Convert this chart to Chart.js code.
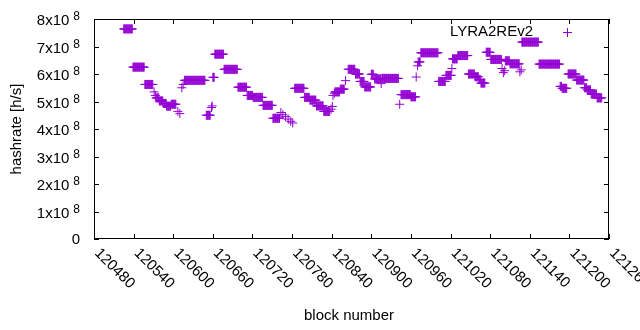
<!DOCTYPE html>
<html>
<head>
<meta charset="utf-8">
<script src="https://cdn.jsdelivr.net/npm/chart.js@4/dist/chart.umd.min.js"></script>
<style>
  html, body { margin: 0; padding: 0; background: #fff; }
  canvas { display: block; }
</style>
</head>
<body>
<canvas id="hashChart" width="640" height="330"></canvas>
<script>
  // runs of blocks that share the same estimated hashrate (x10^8 h/s)
  const runFirstBlock = [120525, 120539, 120557, 120571, 120573, 120574, 120579, 120585, 120590, 120597,
    120607, 120610, 120613, 120615, 120617, 120650, 120658, 120659, 120660, 120663,
    120677, 120698, 120712, 120721, 120736, 120751, 120763, 120766, 120770, 120774,
    120778, 120781, 120784, 120799, 120807, 120817, 120828, 120839, 120841, 120842,
    120844, 120845, 120853, 120861, 120865, 120876, 120883, 120890, 120900, 120905,
    120915, 120916, 120943, 120945, 120960, 120968, 120970, 120971, 120975, 121002,
    121013, 121022, 121023, 121031, 121047, 121057, 121063, 121066, 121074, 121081,
    121098, 121100, 121102, 121103, 121110, 121125, 121127, 121128, 121154, 121186,
    121189, 121198, 121211, 121223, 121227, 121233, 121242];
  const runLastBlock = [120538, 120556, 120569, 120571, 120573, 120578, 120584, 120589, 120596, 120604,
    120607, 120610, 120613, 120615, 120648, 120656, 120658, 120659, 120662, 120676,
    120697, 120711, 120720, 120735, 120750, 120761, 120763, 120766, 120770, 120774,
    120778, 120781, 120798, 120806, 120816, 120827, 120837, 120839, 120841, 120842,
    120844, 120852, 120859, 120861, 120875, 120882, 120889, 120899, 120903, 120914,
    120915, 120941, 120943, 120959, 120967, 120968, 120970, 120974, 121001, 121012,
    121021, 121022, 121030, 121046, 121056, 121062, 121065, 121072, 121080, 121097,
    121098, 121100, 121102, 121109, 121124, 121125, 121127, 121153, 121185, 121188,
    121196, 121210, 121222, 121226, 121232, 121241, 121249];
  const runHashrate = [7.64, 6.25, 5.62, 5.35, 5.22, 5.13, 5.02, 4.93, 4.83, 4.9,
    4.64, 4.56, 5.5, 5.62, 5.77, 4.5, 4.78, 4.84, 5.88, 6.72,
    6.17, 5.52, 5.22, 5.15, 4.86, 4.39, 4.6, 4.52, 4.45, 4.36,
    4.28, 4.22, 5.48, 5.15, 5.05, 4.84, 4.64, 4.72, 4.82, 5.22,
    5.3, 5.35, 5.45, 5.76, 6.17, 6.0, 5.73, 5.53, 5.99, 5.82,
    5.65, 5.84, 4.9, 5.25, 5.17, 5.89, 6.3, 6.44, 6.77, 5.73,
    5.95, 6.2, 6.55, 6.67, 6.0, 5.9, 5.8, 5.67, 6.79, 6.53,
    6.2, 6.05, 6.12, 6.48, 6.37, 6.08, 6.15, 7.16, 6.36, 5.55,
    5.48, 6.0, 5.78, 5.5, 5.42, 5.27, 5.13];

  const xTicks = [120480, 120540, 120600, 120660, 120720, 120780, 120840, 120900, 120960,
    121020, 121080, 121140, 121200, 121260];
  const yTicks = [0, 1, 2, 3, 4, 5, 6, 7, 8];
  const seriesName = 'LYRA2REv2';

  const points = [];
  runFirstBlock.forEach((first, i) => {
    for (let b = first; b <= runLastBlock[i]; b++) {
      points.push({ x: b, y: runHashrate[i] * 1e8 });
    }
  });

  const violet = '#9400d3';
  const font = '15px "Liberation Sans", Arial, sans-serif';
  const supFont = '12px "Liberation Sans", Arial, sans-serif';

  const gnuplotFrame = {
    id: 'gnuplotFrame',
    afterDraw(chart) {
      const { ctx, chartArea: a, scales: { x, y } } = chart;
      ctx.save();
      ctx.strokeStyle = '#000';
      ctx.lineWidth = 1;
      ctx.strokeRect(a.left + 0.5, a.top + 0.5, a.right - a.left - 1, a.bottom - a.top - 1);

      ctx.beginPath();
      xTicks.forEach(v => {
        const px = Math.round(x.getPixelForValue(v)) + 0.5;
        ctx.moveTo(px, a.bottom); ctx.lineTo(px, a.bottom - 5);
        ctx.moveTo(px, a.top); ctx.lineTo(px, a.top + 5);
      });
      yTicks.forEach(v => {
        const py = Math.round(y.getPixelForValue(v * 1e8)) + 0.5;
        ctx.moveTo(a.left, py); ctx.lineTo(a.left + 5, py);
        ctx.moveTo(a.right, py); ctx.lineTo(a.right - 5, py);
      });
      ctx.stroke();

      ctx.fillStyle = '#000';
      // y tick labels
      yTicks.forEach(v => {
        const py = y.getPixelForValue(v * 1e8);
        const rx = a.left - 14;
        ctx.textAlign = 'right';
        if (v === 0) {
          ctx.font = font;
          ctx.textBaseline = 'middle';
          ctx.fillText('0', rx, py + 1);
          return;
        }
        ctx.font = supFont;
        ctx.textBaseline = 'alphabetic';
        const w = ctx.measureText('8').width;
        ctx.fillText('8', rx, py + 1);
        ctx.font = font;
        ctx.textBaseline = 'middle';
        ctx.fillText(v + 'x10', rx - w - 4, py + 2);
      });

      // x tick labels, rotated
      ctx.font = font;
      ctx.textAlign = 'left';
      ctx.textBaseline = 'middle';
      xTicks.forEach(v => {
        const px = x.getPixelForValue(v);
        ctx.save();
        ctx.translate(px, 248);
        ctx.rotate(Math.PI / 4);
        ctx.fillText(String(v), 4, 0);
        ctx.restore();
      });

      // axis titles
      ctx.textAlign = 'center';
      ctx.fillText('block number', 349, 316);
      ctx.save();
      ctx.translate(17, (a.top + a.bottom) / 2);
      ctx.rotate(-Math.PI / 2);
      ctx.fillText('hashrate [h/s]', 0, 0);
      ctx.restore();

      // key
      ctx.textAlign = 'right';
      ctx.fillText(seriesName, 533, 32);
      ctx.strokeStyle = violet;
      ctx.beginPath();
      ctx.moveTo(563, 32.5); ctx.lineTo(572, 32.5);
      ctx.moveTo(567.5, 28); ctx.lineTo(567.5, 37);
      ctx.stroke();
      ctx.restore();
    }
  };

  new Chart(document.getElementById('hashChart'), {
    type: 'scatter',
    data: {
      datasets: [{
        label: seriesName,
        data: points,
        pointStyle: 'cross',
        pointRadius: 4.5,
        pointBorderWidth: 1,
        borderColor: violet,
        backgroundColor: violet
      }]
    },
    options: {
      responsive: false,
      animation: false,
      devicePixelRatio: 1,
      layout: { padding: { left: 94, right: 31, top: 19, bottom: 91 } },
      plugins: { legend: { display: false }, tooltip: { enabled: false } },
      scales: {
        x: { type: 'linear', display: false, min: 120480, max: 121260 },
        y: { type: 'linear', display: false, min: 0, max: 8e8 }
      }
    },
    plugins: [gnuplotFrame]
  });
</script>
</body>
</html>
